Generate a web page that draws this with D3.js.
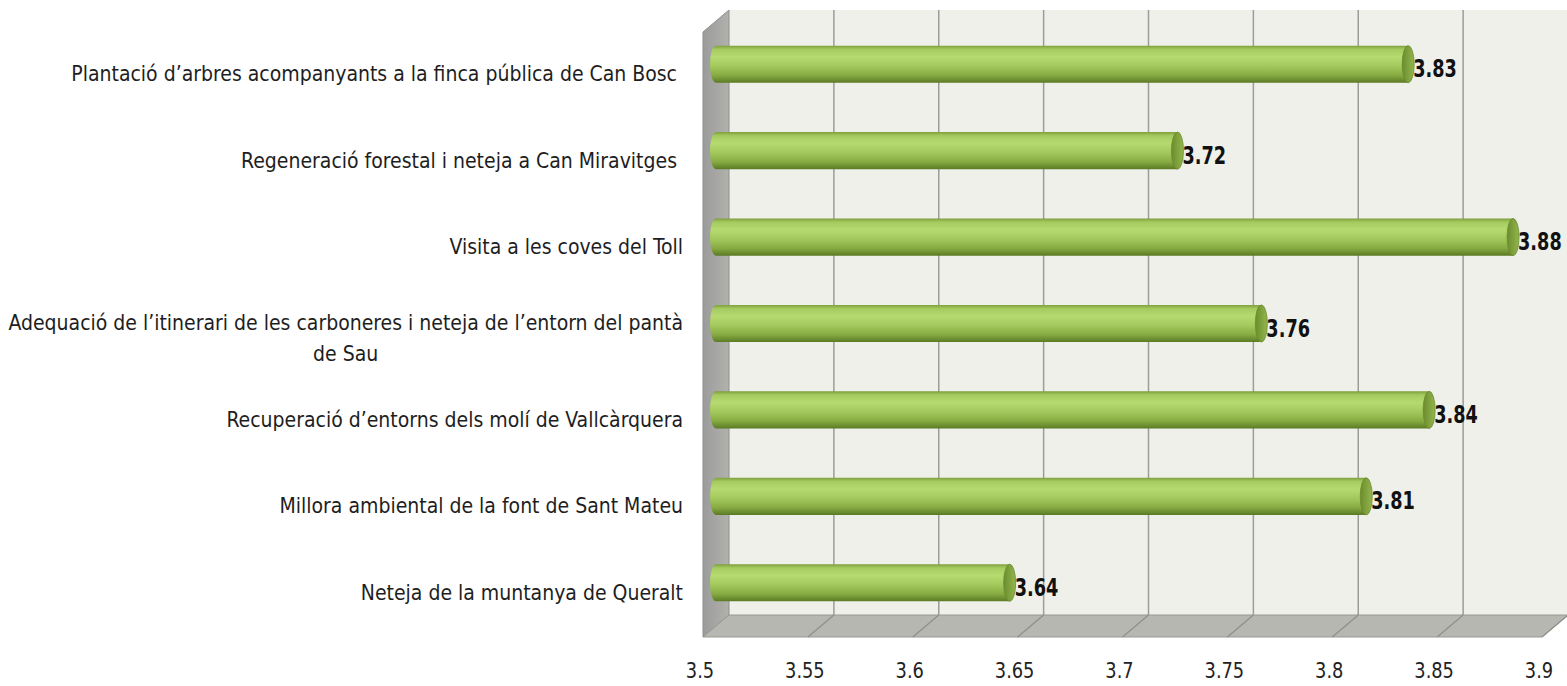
<!DOCTYPE html>
<html>
<head>
<meta charset="utf-8">
<script src="https://cdn.jsdelivr.net/npm/d3@7"></script>
<style>
  body { margin: 0; background: #fff; }
  text { font-family: "Liberation Sans Narrow", "DejaVu Sans Condensed", "Liberation Sans", sans-serif; }
</style>
</head>
<body>
<div id="container"></div>
<script>
/* CONSTANTS AND GLOBALS */
const width = 1567, height = 686;

// data
const categories = [
  "Plantació d’arbres acompanyants a la finca pública de Can Bosc ",
  "Regeneració forestal i neteja a Can Miravitges ",
  "Visita a les coves del Toll",
  "Adequació de l’itinerari de les carboneres i neteja de l’entorn del pantà|de Sau",
  "Recuperació d’entorns dels molí de Vallcàrquera",
  "Millora ambiental de la font de Sant Mateu",
  "Neteja de la muntanya de Queralt"
];
const values = [3.83, 3.72, 3.88, 3.76, 3.84, 3.81, 3.64];
const ticks = [3.5, 3.55, 3.6, 3.65, 3.7, 3.75, 3.8, 3.85, 3.9];

// 3d box: front plane and depth offset
const front = { left: 703, right: 1542, top: 32, bottom: 637 };
const depth = { dx: 26, dy: -22 };

const xScale = d3.scaleLinear().domain([3.5, 3.9]).range([front.left, front.right]);
const yScale = d3.scaleBand().domain(categories).range([front.top, front.bottom]);

const svg = d3.select("#container").append("svg")
  .attr("width", width)
  .attr("height", height);

const defs = svg.append("defs");

// cylinder body
const gBar = defs.append("linearGradient").attr("id", "barGrad")
  .attr("x1", 0).attr("y1", 0).attr("x2", 0).attr("y2", 1);
[["0%", "#7f9f3c"], ["10%", "#a5cb60"], ["30%", "#b6da70"], ["55%", "#a3c95d"],
 ["80%", "#87ab42"], ["100%", "#5b7a25"]].forEach(([o, c]) =>
  gBar.append("stop").attr("offset", o).attr("stop-color", c));

// cylinder cap
const gCap = defs.append("linearGradient").attr("id", "capGrad")
  .attr("x1", 0).attr("y1", 0).attr("x2", 1).attr("y2", 0);
[["0%", "#6c8c2e"], ["100%", "#93b74d"]].forEach(([o, c]) =>
  gCap.append("stop").attr("offset", o).attr("stop-color", c));

// left wall
const gWall = defs.append("linearGradient").attr("id", "wallGrad")
  .attr("x1", 0).attr("y1", 0).attr("x2", 1).attr("y2", 0);
[["0%", "#9b9b9b"], ["100%", "#b1b1ad"]].forEach(([o, c]) =>
  gWall.append("stop").attr("offset", o).attr("stop-color", c));

const backLeft = front.left + depth.dx, backTop = front.top + depth.dy,
      backBottom = front.bottom + depth.dy, backRight = front.right + depth.dx;

// back wall
svg.append("rect")
  .attr("x", backLeft).attr("y", backTop)
  .attr("width", backRight - backLeft).attr("height", backBottom - backTop)
  .attr("fill", "#eff0ea");

// left wall
svg.append("polygon")
  .attr("points", [[front.left, front.top], [backLeft, backTop], [backLeft, backBottom], [front.left, front.bottom]].join(" "))
  .attr("fill", "url(#wallGrad)")
  .attr("stroke", "#8e8e8e").attr("stroke-width", 1);

// floor
svg.append("polygon")
  .attr("points", [[front.left, front.bottom], [backLeft, backBottom], [backRight, backBottom], [front.right, front.bottom]].join(" "))
  .attr("fill", "#b6b7b0")
  .attr("stroke", "#9a9a96").attr("stroke-width", 1);

// grid lines on back wall
svg.selectAll("line.grid")
  .data(ticks.slice(1))
  .join("line")
  .attr("class", "grid")
  .attr("x1", d => xScale(d) + depth.dx).attr("x2", d => xScale(d) + depth.dx)
  .attr("y1", backTop).attr("y2", backBottom)
  .attr("stroke", "#9c9c9a").attr("stroke-width", 1.5);

// grid lines across floor
svg.selectAll("line.floorgrid")
  .data(ticks.slice(1))
  .join("line")
  .attr("class", "floorgrid")
  .attr("x1", d => xScale(d)).attr("y1", front.bottom)
  .attr("x2", d => xScale(d) + depth.dx).attr("y2", backBottom)
  .attr("stroke", "#8f8f8b").attr("stroke-width", 1.2);

// bars (cylinders at mid depth)
const barH = yScale.bandwidth() * 0.43;
const mid = { dx: depth.dx / 2, dy: depth.dy / 2 };
const rx = 6;
const cy = d => yScale(d) + yScale.bandwidth() / 2 + mid.dy;
const x0 = xScale(3.5) + mid.dx;
const xEnd = (v) => xScale(v) + mid.dx;

const bars = svg.selectAll("g.bar")
  .data(categories.map((c, i) => ({ cat: c, value: values[i] })))
  .join("g")
  .attr("class", "bar");

bars.append("path")
  .attr("d", d => {
    const y = cy(d.cat), t = y - barH / 2, b = y + barH / 2;
    return `M${x0},${t} L${xEnd(d.value)},${t} L${xEnd(d.value)},${b} L${x0},${b}
            A${rx},${barH / 2} 0 0 1 ${x0},${t} Z`;
  })
  .attr("fill", "url(#barGrad)");

bars.append("ellipse")
  .attr("cx", d => xEnd(d.value))
  .attr("cy", d => cy(d.cat))
  .attr("rx", rx).attr("ry", barH / 2)
  .attr("fill", "url(#capGrad)")
  .attr("stroke", "#6a8a2c").attr("stroke-width", 0.8);

// value labels (condensed bold, like the original)
bars.append("text")
  .attr("transform", d => `translate(${xEnd(d.value) + rx - 1},${cy(d.cat) + 13}) scale(0.82,1)`)
  .attr("font-size", 24)
  .attr("font-weight", "bold")
  .attr("fill", "#111")
  .text(d => d.value.toFixed(2));

// tick labels
svg.append("g")
  .selectAll("text")
  .data(ticks)
  .join("text")
  .attr("transform", d => `translate(${xScale(d) - 3},${front.bottom + 41}) scale(0.9,1)`)
  .attr("text-anchor", "middle")
  .attr("font-size", 22)
  .attr("fill", "#222")
  .text(d => d);

// category labels
const labelRight = 683;
const labels = svg.append("g").selectAll("text")
  .data(categories)
  .join("text")
  .attr("font-size", 21)
  .attr("fill", "#1e1e1e")
  .style("white-space", "pre");

labels.each(function (d) {
  const lines = d.split("|");
  const t = d3.select(this);
  const yc = yScale(d) + yScale.bandwidth() / 2;
  if (lines.length === 1) {
    t.attr("x", labelRight).attr("y", yc + 6).attr("text-anchor", "end").text(d);
  } else {
    t.attr("text-anchor", "middle");
    const first = t.append("tspan").text(lines[0]);
    const w = first.node().getComputedTextLength();
    const cx = labelRight - w / 2;
    first.attr("x", cx).attr("y", yc - 5);
    t.append("tspan").attr("x", cx).attr("y", yc + 26).text(lines[1]);
  }
});
</script>
</body>
</html>
